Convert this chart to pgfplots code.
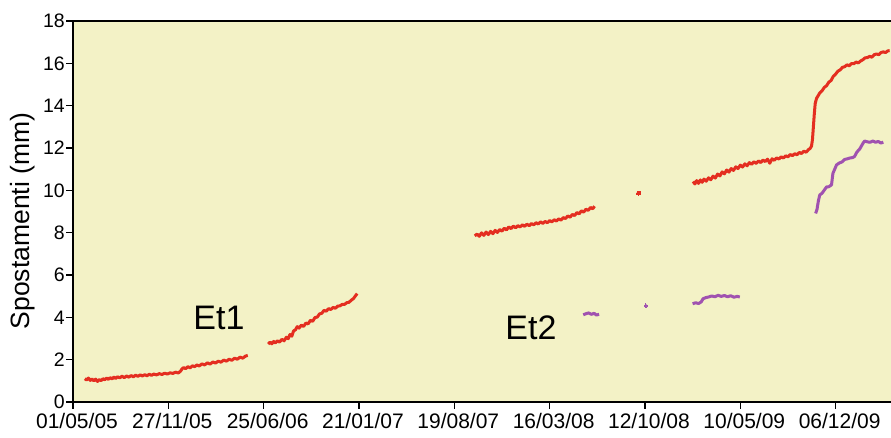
\documentclass[border=0pt]{standalone}
\usepackage{fontspec}
\setmainfont{Liberation Sans}
\usepackage{pgfplots}
\pgfplotsset{compat=1.18}
\definecolor{bgc}{RGB}{243,242,198}
\definecolor{redc}{RGB}{228,46,32}
\definecolor{purc}{RGB}{160,82,176}
\begin{document}
\begin{tikzpicture}
\path[use as bounding box] (-73pt,-36pt) rectangle (818pt,402pt);
\begin{axis}[
  at={(0,0)}, anchor=south west,
  scale only axis, width=818pt, height=381pt,
  xmin=0, xmax=1802, ymin=0, ymax=18,
  axis background/.style={fill=bgc},
  axis line style={draw=none},
  no marks,
  xtick={0,210,420,630,840,1050,1260,1470,1680},
  xticklabels={01/05/05,27/11/05,25/06/06,21/01/07,19/08/07,16/03/08,12/10/08,10/05/09,06/12/09},
  ytick={0,2,4,6,8,10,12,14,16,18},
  xtick pos=bottom, ytick pos=left,
  tick align=outside, major tick length=7pt,
  tick style={black, line width=1.2pt},
  /pgf/number format/assume math mode=true,
  xticklabel style={font=\fontsize{21}{21}\selectfont, xshift=4pt, inner sep=0pt, yshift=-4pt},
  yticklabel style={font=\fontsize{19.5}{19.5}\selectfont, inner sep=1pt},
  clip=false,
  every axis plot/.append style={line width=3pt, line join=round},
]
% Et1 (red)
\addplot[redc] coordinates {
(26,1.10)(30,1.04)(34,1.13)(38,1.02)(42,1.09)(46,1.00)(50,1.08)(54,0.97)(58,1.06)(62,1.01)(66,1.10)(70,1.05)(74,1.13)(78,1.07)(82,1.15)(86,1.09)(90,1.18)(94,1.11)(98,1.19)(103,1.14)(108,1.22)(113,1.15)(118,1.23)(123,1.17)(128,1.25)(133,1.19)(138,1.27)(143,1.21)(148,1.28)(153,1.23)(158,1.29)(163,1.24)(168,1.31)(173,1.26)(178,1.32)(184,1.28)(190,1.34)(196,1.30)(202,1.36)(208,1.32)(214,1.38)(220,1.35)(226,1.41)(232,1.37)(237,1.46)(240,1.56)(244,1.63)(248,1.57)(253,1.67)(258,1.61)(263,1.71)(268,1.67)(273,1.75)(278,1.70)(284,1.80)(290,1.75)(296,1.85)(302,1.79)(308,1.89)(314,1.84)(320,1.93)(326,1.88)(332,1.98)(338,1.93)(344,2.02)(350,1.97)(356,2.07)(362,2.02)(368,2.12)(374,2.07)(380,2.17)(385,2.20)
};
\addplot[redc] coordinates {
(430,2.74)(434,2.83)(438,2.75)(442,2.86)(446,2.79)(450,2.89)(455,2.83)(460,2.96)(465,2.89)(470,3.06)(474,2.99)(478,3.19)(482,3.11)(486,3.36)(490,3.41)(494,3.56)(498,3.49)(503,3.63)(508,3.57)(513,3.73)(518,3.69)(523,3.86)(528,3.81)(533,3.99)(538,4.01)(543,4.16)(548,4.19)(553,4.33)(558,4.29)(563,4.41)(568,4.37)(573,4.47)(578,4.43)(583,4.53)(588,4.54)(593,4.61)(598,4.61)(603,4.69)(608,4.71)(613,4.81)(618,4.89)(622,5.01)(626,5.12)
};
\addplot[redc] coordinates {
(885,7.85)(890,7.93)(895,7.83)(900,7.99)(905,7.87)(910,8.03)(915,7.91)(920,8.06)(925,7.95)(930,8.11)(935,8.01)(940,8.15)(945,8.07)(950,8.21)(955,8.13)(960,8.27)(965,8.19)(970,8.31)(975,8.23)(980,8.33)(985,8.27)(990,8.37)(995,8.30)(1000,8.40)(1005,8.33)(1010,8.43)(1015,8.37)(1020,8.47)(1025,8.41)(1030,8.51)(1035,8.44)(1040,8.53)(1045,8.47)(1050,8.57)(1055,8.51)(1060,8.61)(1065,8.55)(1070,8.65)(1075,8.59)(1080,8.71)(1085,8.67)(1090,8.79)(1095,8.73)(1100,8.86)(1105,8.81)(1110,8.95)(1115,8.89)(1120,9.03)(1125,8.97)(1130,9.11)(1135,9.05)(1140,9.19)(1145,9.13)(1149,9.25)
};
\addplot[redc, only marks, mark=*, mark size=2pt, line width=0pt] coordinates {(1246,9.87)};
\addplot[redc] coordinates {
(1366,10.42)(1370,10.30)(1374,10.46)(1378,10.33)(1382,10.49)(1386,10.38)(1390,10.53)(1395,10.43)(1400,10.59)(1405,10.50)(1410,10.67)(1415,10.58)(1420,10.77)(1425,10.68)(1430,10.87)(1435,10.78)(1440,10.96)(1445,10.86)(1450,11.03)(1455,10.94)(1460,11.11)(1465,11.03)(1470,11.19)(1475,11.10)(1480,11.25)(1485,11.16)(1490,11.31)(1495,11.23)(1500,11.35)(1505,11.27)(1510,11.39)(1515,11.31)(1520,11.43)(1525,11.36)(1530,11.47)(1535,11.28)(1540,11.49)(1545,11.42)(1550,11.53)(1555,11.48)(1560,11.58)(1565,11.53)(1570,11.63)(1575,11.58)(1580,11.69)(1585,11.64)(1590,11.73)(1595,11.68)(1600,11.79)(1605,11.74)(1610,11.85)(1615,11.80)(1620,11.92)(1624,11.98)(1627,12.10)(1629,12.40)(1631,13.00)(1633,13.60)(1635,14.10)(1638,14.35)(1641,14.45)(1645,14.60)(1650,14.70)(1655,14.86)(1660,14.94)(1665,15.11)(1670,15.19)(1675,15.39)(1680,15.49)(1685,15.63)(1690,15.69)(1695,15.81)(1700,15.84)(1705,15.93)(1710,15.88)(1715,15.99)(1720,15.98)(1725,16.06)(1730,16.02)(1735,16.11)(1740,16.17)(1745,16.26)(1750,16.27)(1755,16.33)(1760,16.29)(1765,16.41)(1770,16.44)(1775,16.41)(1780,16.51)(1785,16.54)(1790,16.51)(1795,16.59)(1799,16.60)
};
% Et2 (purple)
\addplot[purc] coordinates {
(1124,4.12)(1130,4.17)(1136,4.21)(1142,4.14)(1148,4.19)(1153,4.11)(1159,4.14)
};
\addplot[purc, only marks, mark=*, mark size=1.7pt, line width=0pt] coordinates {(1262,4.55)};
\addplot[purc] coordinates {
(1365,4.64)(1372,4.69)(1378,4.65)(1384,4.73)(1388,4.88)(1394,4.93)(1400,4.96)(1407,5.01)(1414,4.97)(1421,5.04)(1428,4.99)(1435,5.03)(1442,4.97)(1449,5.02)(1456,4.95)(1463,4.99)(1469,4.96)
};
\addplot[purc] coordinates {
(1636,8.91)(1639,9.10)(1642,9.50)(1645,9.78)(1650,9.86)(1655,10.01)(1660,10.16)(1665,10.17)(1671,10.26)(1674,10.80)(1678,11.00)(1682,11.20)(1688,11.29)(1694,11.34)(1700,11.46)(1706,11.49)(1712,11.53)(1718,11.55)(1722,11.61)(1726,11.78)(1729,11.86)(1733,11.95)(1737,12.10)(1741,12.25)(1744,12.33)(1750,12.29)(1756,12.27)(1762,12.33)(1768,12.27)(1774,12.31)(1780,12.23)(1785,12.28)
};
\draw[black, line width=1.4pt] (rel axis cs:0,1) -- (rel axis cs:0,0) -- (rel axis cs:1,0);
\draw[black, line width=2.4pt] (rel axis cs:0,1) -- (rel axis cs:1,1);
\end{axis}
\node[rotate=90, font=\fontsize{26.5}{26.5}\selectfont] at (-50pt,181pt) {Spostamenti (mm)};
\node[font=\fontsize{34}{34}\selectfont] at (146pt,84pt) {Et1};
\node[font=\fontsize{34}{34}\selectfont] at (458pt,74pt) {Et2};
\end{tikzpicture}
\end{document}
